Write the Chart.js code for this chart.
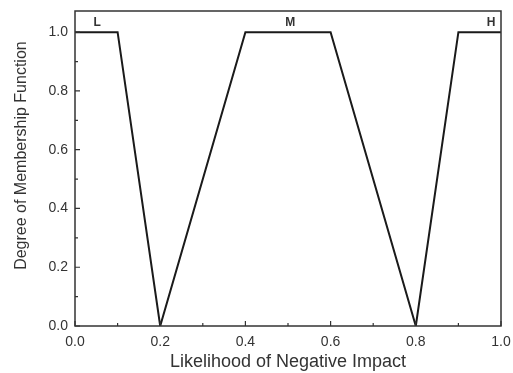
<!DOCTYPE html>
<html>
<head>
<meta charset="utf-8">
<script src="https://cdn.jsdelivr.net/npm/chart.js@4/dist/chart.umd.min.js"></script>
<style>
  html, body { margin: 0; padding: 0; background: #fff; }
  #wrap { width: 513px; height: 373px; }
</style>
</head>
<body>
<div id="wrap"><canvas id="chart" width="513" height="373"></canvas></div>
<script>
// membership functions (x = likelihood, y = degree)
const lowX = [0, 0.1, 0.2];
const lowY = [1, 1, 0];
const medX = [0.2, 0.4, 0.6, 0.8];
const medY = [0, 1, 1, 0];
const highX = [0.8, 0.9, 1.0];
const highY = [0, 1, 1];

const setNames = ['L', 'M', 'H'];
const setLabelX = [0.052, 0.505, 0.977];
const setLabelY = [1.015, 1.015, 1.015];

const xTicks = [0, 0.2, 0.4, 0.6, 0.8, 1.0];
const yTicks = [0, 0.2, 0.4, 0.6, 0.8, 1.0];
const xMinor = [0.1, 0.3, 0.5, 0.7, 0.9];
const yMinor = [0.1, 0.3, 0.5, 0.7, 0.9];

const yTitle = 'Degree of Membership Function';

const toPoints = (xs, ys) => xs.map((x, i) => ({ x: x, y: ys[i] }));

const lineStyle = { borderColor: '#1a1a1a', borderWidth: 2, pointRadius: 0, showLine: true, fill: false, tension: 0 };

// frame, inward ticks, y title and the L/M/H labels
const framePlugin = {
    id: 'frame',
    afterDatasetsDraw(chart) {
        const ctx = chart.ctx;
        const a = chart.chartArea;
        const xs = chart.scales.x, ys = chart.scales.y;
        ctx.save();
        ctx.strokeStyle = '#333';
        ctx.lineWidth = 1.5;
        ctx.strokeRect(a.left, a.top, a.right - a.left, a.bottom - a.top);
        ctx.lineWidth = 1.2;
        ctx.beginPath();
        xTicks.forEach(v => { const p = xs.getPixelForValue(v); ctx.moveTo(p, a.bottom); ctx.lineTo(p, a.bottom - 5); });
        xMinor.forEach(v => { const p = xs.getPixelForValue(v); ctx.moveTo(p, a.bottom); ctx.lineTo(p, a.bottom - 3); });
        yTicks.forEach(v => { const p = ys.getPixelForValue(v); ctx.moveTo(a.left, p); ctx.lineTo(a.left + 5, p); });
        yMinor.forEach(v => { const p = ys.getPixelForValue(v); ctx.moveTo(a.left, p); ctx.lineTo(a.left + 3, p); });
        ctx.stroke();
        ctx.fillStyle = '#333';
        ctx.font = 'bold 12px "Liberation Sans", Arial, sans-serif';
        ctx.textAlign = 'center';
        ctx.textBaseline = 'bottom';
        setNames.forEach((n, i) => {
            ctx.fillText(n, xs.getPixelForValue(setLabelX[i]), ys.getPixelForValue(setLabelY[i]) + 1);
        });
        // y axis title, sits a little above the plot's middle in the original
        ctx.font = '16px "Liberation Sans", Arial, sans-serif';
        ctx.textBaseline = 'middle';
        ctx.translate(22, ys.getPixelForValue(0.58));
        ctx.rotate(-Math.PI / 2);
        ctx.fillText(yTitle, 0, 0);
        ctx.restore();
    }
};

Chart.defaults.font.family = '"Liberation Sans", Arial, sans-serif';
Chart.defaults.color = '#333';

new Chart(document.getElementById('chart').getContext('2d'), {
    type: 'scatter',
    data: {
        datasets: [
            Object.assign({ label: 'L', data: toPoints(lowX, lowY) }, lineStyle),
            Object.assign({ label: 'M', data: toPoints(medX, medY) }, lineStyle),
            Object.assign({ label: 'H', data: toPoints(highX, highY) }, lineStyle)
        ]
    },
    options: {
        responsive: false,
        animation: false,
        layout: { padding: { top: 11, right: 12, left: 0, bottom: 0 } },
        plugins: { legend: { display: false }, tooltip: { enabled: false } },
        scales: {
            x: {
                type: 'linear', min: 0, max: 1,
                afterBuildTicks: s => { s.ticks = xTicks.map(v => ({ value: v })); },
                afterFit: s => { s.height = 47; s.paddingLeft = 0; s.paddingRight = 0; },
                grid: { display: false, drawTicks: false },
                border: { display: false },
                ticks: { font: { size: 14 }, padding: 8, maxRotation: 0, callback: v => v.toFixed(1) },
                title: { display: true, text: 'Likelihood of Negative Impact', font: { size: 18 }, padding: { top: 2, bottom: 0 } }
            },
            y: {
                type: 'linear', min: 0, max: 1.072,
                afterBuildTicks: s => { s.ticks = yTicks.map(v => ({ value: v })); },
                afterFit: s => { s.width = 75; s.paddingTop = 0; s.paddingBottom = 0; },
                grid: { display: false, drawTicks: false },
                border: { display: false },
                ticks: { font: { size: 14 }, padding: 7, callback: v => v.toFixed(1) }
            }
        }
    },
    plugins: [framePlugin]
});
</script>
</body>
</html>
